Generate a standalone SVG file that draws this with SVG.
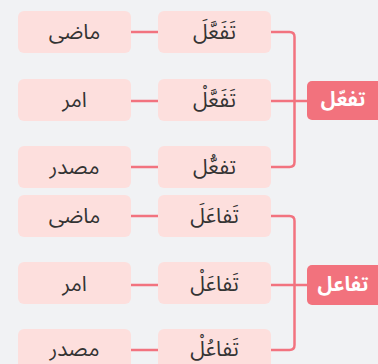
<svg xmlns="http://www.w3.org/2000/svg" width="378" height="364" viewBox="0 0 378 364">
<style>
.bg{fill:#f1f2f4}
.box{fill:#fddfdd}
.main{fill:#f2727d}
.t{font-family:"Noto Sans Arabic","Noto Naskh Arabic","Noto Sans","DejaVu Sans",sans-serif;font-size:21px;fill:#333;text-anchor:middle;dominant-baseline:central;direction:rtl}
.mt{font-family:"Noto Sans Arabic","Noto Naskh Arabic","Noto Sans","DejaVu Sans",sans-serif;font-size:20px;font-weight:bold;fill:#fff;text-anchor:middle;dominant-baseline:central;direction:rtl}
.c{fill:none;stroke:#f2737f;stroke-width:2.5}
</style>
<rect class="bg" x="0" y="0" width="378" height="364"/>
<g id="connectors">
<path class="c" d="M131 32H158M131 101H158M131 167H158"/>
<path class="c" d="M271 32H289.5Q294.5 32 294.5 37V162Q294.5 167 289.5 167H271M271 101H307"/>
<path class="c" d="M131 216H158M131 285H158M131 350H158"/>
<path class="c" d="M271 216H289.5Q294.5 216 294.5 221V345Q294.5 350 289.5 350H271M271 285H307"/>
</g>
<g id="n-tafaal"><rect class="main" x="307" y="81" width="80" height="39" rx="5"/><text class="mt" x="343" y="100">تفعّل</text></g>
<g id="n-tafaul"><rect class="main" x="307" y="265" width="80" height="40" rx="5"/><text class="mt" x="343" y="285">تفاعل</text></g>
<g id="n1m"><rect class="box" x="158" y="11" width="113" height="42" rx="6"/><text class="t" x="214.5" y="32">تَفَعَّلَ</text></g>
<g id="n1l"><rect class="box" x="18" y="11" width="113" height="42" rx="6"/><text class="t" x="74.5" y="32">ماضی</text></g>
<g id="n2m"><rect class="box" x="158" y="79" width="113" height="42" rx="6"/><text class="t" x="214.5" y="100">تَفَعَّلْ</text></g>
<g id="n2l"><rect class="box" x="18" y="79" width="113" height="42" rx="6"/><text class="t" x="74.5" y="100">امر</text></g>
<g id="n3m"><rect class="box" x="158" y="146" width="113" height="42" rx="6"/><text class="t" x="214.5" y="167">تفعُّل</text></g>
<g id="n3l"><rect class="box" x="18" y="146" width="113" height="42" rx="6"/><text class="t" x="74.5" y="167">مصدر</text></g>
<g id="n4m"><rect class="box" x="158" y="195" width="113" height="42" rx="6"/><text class="t" x="214.5" y="216">تَفاعَلَ</text></g>
<g id="n4l"><rect class="box" x="18" y="195" width="113" height="42" rx="6"/><text class="t" x="74.5" y="216">ماضی</text></g>
<g id="n5m"><rect class="box" x="158" y="262" width="113" height="42" rx="6"/><text class="t" x="214.5" y="284">تَفاعَلْ</text></g>
<g id="n5l"><rect class="box" x="18" y="262" width="113" height="42" rx="6"/><text class="t" x="74.5" y="284">امر</text></g>
<g id="n6m"><rect class="box" x="158" y="329" width="113" height="42" rx="6"/><text class="t" x="214.5" y="349">تَفاعُلْ</text></g>
<g id="n6l"><rect class="box" x="18" y="329" width="113" height="42" rx="6"/><text class="t" x="74.5" y="349">مصدر</text></g>
</svg>
